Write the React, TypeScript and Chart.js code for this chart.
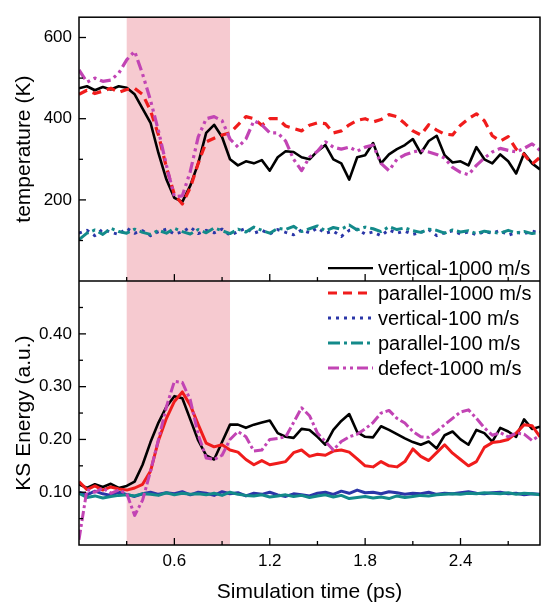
import React, { useEffect, useRef } from 'react';
import { Chart, registerables } from 'chart.js';

Chart.register(...registerables);

// ---------------- data ----------------
const time = [
  0, 0.05, 0.1, 0.15, 0.2, 0.25, 0.3, 0.35, 0.4, 0.45,
  0.5, 0.55, 0.6, 0.65, 0.7, 0.75, 0.8, 0.85, 0.9, 0.95,
  1.0, 1.05, 1.1, 1.15, 1.2, 1.25, 1.3, 1.35, 1.4, 1.45,
  1.5, 1.55, 1.6, 1.65, 1.7, 1.75, 1.8, 1.85, 1.9, 1.95,
  2.0, 2.05, 2.1, 2.15, 2.2, 2.25, 2.3, 2.35, 2.4, 2.45,
  2.5, 2.55, 2.6, 2.65, 2.7, 2.75, 2.8, 2.85, 2.9,
];

const seriesLabels = [
  'vertical-1000 m/s',
  'parallel-1000 m/s',
  'vertical-100 m/s',
  'parallel-100 m/s',
  'defect-1000 m/s',
];

// temperature (K)
const tempV1000 = [
  475, 480, 470, 478, 472, 480, 476, 460, 425, 390,
  315, 250, 205, 195, 235, 290, 365, 385, 355, 300,
  285, 295, 290, 298, 272, 305, 320, 318, 305, 300,
  320, 335, 300, 290, 250, 305, 310, 340, 290, 312,
  325, 335, 350, 315, 345, 358, 310, 292, 295, 285,
  330, 300, 290, 312, 295, 265, 315, 290, 275,
];
const tempP1000 = [
  460, 470, 462, 468, 475, 465, 472, 475, 460, 420,
  360, 280, 213, 190, 230, 290, 343, 352, 360, 365,
  385, 405, 400, 384, 400, 400, 382, 376, 370, 384,
  390, 388, 365, 370, 385, 396, 400, 392, 398, 410,
  405, 388, 370, 360, 385, 372, 362, 360, 384, 400,
  412, 395, 358, 345, 356, 325, 312, 288, 305,
];
const tempV100 = [
  118, 125, 112, 128, 120, 115, 130, 118, 124, 112,
  122, 128, 116, 121, 133, 117, 125, 119, 128, 113,
  122, 130, 118, 125, 116, 127, 120, 114, 126, 119,
  131, 118, 123, 110, 125, 128, 116, 121, 112, 126,
  118, 123, 115, 120, 127, 112, 119, 124, 116, 121,
  114, 122, 118, 125, 113, 120, 117, 123, 119,
];
const tempP100 = [
  102, 118, 126, 115, 130, 122, 118, 128, 120, 115,
  125, 118, 130, 122, 116, 127, 119, 131, 124, 117,
  128, 121, 133, 125, 118, 130, 127, 135, 122, 129,
  136, 124, 132, 128, 138, 126, 133, 129, 122, 134,
  127, 131, 124, 120, 128, 125, 118, 126, 121, 124,
  117, 123, 120, 118, 125, 119, 122, 117, 121,
];
const tempD1000 = [
  520, 490, 500, 492, 495, 512, 545, 566, 510, 445,
  370, 285, 208, 210, 270, 355, 400, 405, 395, 350,
  330, 350, 395, 385, 365, 365, 345, 300, 272, 305,
  320, 343, 330, 325, 330, 320, 330, 335, 290, 272,
  300, 311, 318, 322, 318, 312, 303, 280, 268, 262,
  285, 303, 318, 327, 322, 318, 327, 338, 322,
];

// KS energy (a.u.)
const ksV1000 = [
  0.115, 0.108, 0.115, 0.110, 0.116, 0.108, 0.112, 0.120, 0.152, 0.195,
  0.232, 0.262, 0.282, 0.278, 0.238, 0.198, 0.170, 0.162, 0.195, 0.228,
  0.228, 0.222, 0.228, 0.232, 0.236, 0.212, 0.205, 0.203, 0.220, 0.218,
  0.205, 0.190, 0.218, 0.235, 0.248, 0.214, 0.205, 0.204, 0.225, 0.218,
  0.210, 0.202, 0.195, 0.190, 0.196, 0.183, 0.208, 0.215, 0.200, 0.190,
  0.218, 0.212, 0.196, 0.222, 0.215, 0.205, 0.238, 0.220, 0.224,
];
const ksP1000 = [
  0.120, 0.105, 0.112, 0.104, 0.110, 0.106, 0.104, 0.108, 0.115, 0.140,
  0.198, 0.240, 0.272, 0.290, 0.265, 0.228, 0.193, 0.186, 0.190, 0.180,
  0.176, 0.162, 0.152, 0.160, 0.152, 0.155, 0.158, 0.175, 0.180, 0.168,
  0.172, 0.170, 0.178, 0.180, 0.176, 0.163, 0.150, 0.148, 0.158, 0.150,
  0.148, 0.158, 0.182, 0.168, 0.160, 0.175, 0.190, 0.174, 0.162, 0.150,
  0.158, 0.185, 0.194, 0.196, 0.200, 0.212, 0.228, 0.226, 0.205,
];
const ksV100 = [
  0.100, 0.095, 0.102, 0.097, 0.094, 0.100, 0.096, 0.092, 0.097, 0.100,
  0.096, 0.099, 0.097, 0.101, 0.095, 0.100, 0.098, 0.094, 0.101, 0.097,
  0.099, 0.093, 0.098, 0.096, 0.100, 0.095, 0.092, 0.097, 0.095, 0.093,
  0.098, 0.100, 0.096, 0.102, 0.098, 0.104, 0.099, 0.100, 0.097, 0.101,
  0.099, 0.096, 0.098, 0.097, 0.100, 0.096, 0.098, 0.097, 0.099, 0.101,
  0.098, 0.097, 0.099, 0.100, 0.097, 0.098, 0.095, 0.097, 0.096,
];
const ksP100 = [
  0.098, 0.090, 0.093, 0.089, 0.092, 0.094, 0.095, 0.093, 0.097, 0.096,
  0.094, 0.099, 0.095, 0.098, 0.096, 0.097, 0.095, 0.098, 0.094, 0.100,
  0.096, 0.094, 0.093, 0.095, 0.091, 0.093, 0.095, 0.092, 0.094, 0.090,
  0.093, 0.095, 0.091, 0.094, 0.088, 0.090, 0.092, 0.089, 0.091, 0.088,
  0.093, 0.090, 0.092, 0.094, 0.093, 0.095, 0.096, 0.097, 0.096, 0.098,
  0.097, 0.099, 0.098, 0.097, 0.099, 0.096, 0.098, 0.097, 0.095,
];
const ksD1000 = [
  0.010, 0.105, 0.100, 0.108, 0.098, 0.104, 0.098, 0.056, 0.085, 0.140,
  0.200, 0.262, 0.310, 0.308, 0.275, 0.209, 0.165, 0.162, 0.170, 0.200,
  0.215, 0.205, 0.178, 0.180, 0.200, 0.202, 0.205, 0.232, 0.260, 0.245,
  0.212, 0.196, 0.180, 0.196, 0.205, 0.210, 0.220, 0.232, 0.250, 0.255,
  0.240, 0.231, 0.215, 0.205, 0.204, 0.215, 0.228, 0.240, 0.252, 0.256,
  0.240, 0.222, 0.208, 0.213, 0.205, 0.212, 0.210, 0.198, 0.208,
];

const xMajorTicks = [0.6, 1.2, 1.8, 2.4];
const xMinorTicks = [0.3, 0.9, 1.5, 2.1, 2.7];
const tempMajorTicks = [200, 400, 600];
const tempMinorTicks = [100, 300, 500];
const ksMajorTicks = [0.1, 0.2, 0.3, 0.4];
const ksMinorTicks = [0.05, 0.15, 0.25, 0.35, 0.45];
const shadeRange = [0.3, 0.95];

// ---------------- styles ----------------
const FONT = '"Liberation Sans", Arial, sans-serif';
const colors = ['#000000', '#f01c1c', '#2b36a8', '#138a8a', '#c244b4'];
const topDash = [[], [9, 6], [3, 5], [12, 4, 3, 4], [11, 4, 3, 4, 3, 4]];
const bottomDash = [[], [], [], [], [10, 3, 3, 3]];
const widths = [2.6, 3.2, 3, 3, 3.2];
const bottomWidths = [2.6, 3, 3, 3, 3];

const topSeries = [tempV1000, tempP1000, tempV100, tempP100, tempD1000];
const bottomSeries = [ksV1000, ksP1000, ksV100, ksP100, ksD1000];

function toPoints(vals: number[]) {
  return time.map((t, i) => ({ x: t, y: vals[i] }));
}

const decorPlugin = {
  id: 'decor',
  beforeDatasetsDraw(chart: any) {
    const { ctx, chartArea } = chart;
    const xs = chart.scales.x;
    const x0 = xs.getPixelForValue(shadeRange[0]);
    const x1 = xs.getPixelForValue(shadeRange[1]);
    ctx.save();
    ctx.fillStyle = '#f6cad0';
    ctx.fillRect(x0, chartArea.top, x1 - x0, chartArea.bottom - chartArea.top);
    ctx.restore();
  },
  afterDatasetsDraw(chart: any) {
    const { ctx, chartArea } = chart;
    const xs = chart.scales.x;
    const yT = chart.scales.yT;
    const yB = chart.scales.yB;
    ctx.save();
    ctx.strokeStyle = '#000';
    ctx.lineWidth = 1.5;
    ctx.setLineDash([]);
    ctx.strokeRect(chartArea.left, chartArea.top, chartArea.right - chartArea.left, chartArea.bottom - chartArea.top);
    const seg = (x0: number, y0: number, x1: number, y1: number) => {
      ctx.beginPath();
      ctx.moveTo(x0, y0);
      ctx.lineTo(x1, y1);
      ctx.stroke();
    };
    seg(chartArea.left, yT.bottom, chartArea.right, yT.bottom);
    ctx.lineWidth = 1.3;
    for (const base of [yT.bottom, yB.bottom]) {
      for (const v of xMajorTicks) {
        const px = xs.getPixelForValue(v);
        seg(px, base, px, base - 7);
      }
      for (const v of xMinorTicks) {
        const px = xs.getPixelForValue(v);
        seg(px, base, px, base - 4);
      }
    }
    const L = chartArea.left;
    for (const v of tempMajorTicks) { const py = yT.getPixelForValue(v); seg(L, py, L + 7, py); }
    for (const v of tempMinorTicks) { const py = yT.getPixelForValue(v); seg(L, py, L + 4, py); }
    for (const v of ksMajorTicks) { const py = yB.getPixelForValue(v); seg(L, py, L + 7, py); }
    for (const v of ksMinorTicks) { const py = yB.getPixelForValue(v); seg(L, py, L + 4, py); }

    // legend
    const lx0 = chartArea.right - 212;
    const lx1 = lx0 + 45;
    const ly0 = yT.bottom - 13;
    ctx.font = `20px ${FONT}`;
    ctx.textBaseline = 'middle';
    ctx.textAlign = 'left';
    seriesLabels.forEach((label, i) => {
      const y = ly0 + i * 25;
      ctx.strokeStyle = colors[i];
      ctx.lineWidth = i === 0 ? 2.4 : 3;
      ctx.setLineDash(topDash[i]);
      seg(lx0, y, lx1, y);
      ctx.setLineDash([]);
      ctx.fillStyle = '#000';
      ctx.fillText(label, lx1 + 5, y + 1);
    });
    ctx.restore();
  },
};

export default function App() {
  const ref = useRef<HTMLCanvasElement | null>(null);
  useEffect(() => {
    if (!ref.current) return;
    Chart.defaults.font.family = FONT;
    Chart.defaults.color = '#000';
    const datasets: any[] = [];
    topSeries.forEach((vals, i) => {
      datasets.push({
        label: seriesLabels[i],
        data: toPoints(vals),
        yAxisID: 'yT',
        borderColor: colors[i],
        borderWidth: widths[i],
        borderDash: topDash[i],
        pointRadius: 0,
        fill: false,
        tension: 0,
        borderJoinStyle: 'round',
      });
    });
    bottomSeries.forEach((vals, i) => {
      datasets.push({
        label: seriesLabels[i] + ' KS',
        data: toPoints(vals),
        yAxisID: 'yB',
        borderColor: colors[i],
        borderWidth: bottomWidths[i],
        borderDash: bottomDash[i],
        pointRadius: 0,
        fill: false,
        tension: 0,
        borderJoinStyle: 'round',
      });
    });
    const order = [4, 3, 2, 1, 0];
    datasets.forEach((d, idx) => { d.order = order[idx % 5]; });

    const yCommon = (title: string) => ({
      type: 'linear',
      position: 'left',
      stack: 'panels',
      stackWeight: 1,
      grid: { display: false, drawTicks: false },
      border: { display: false },
      title: {
        display: true,
        text: title,
        font: { size: 21, lineHeight: 1 },
        padding: { top: 14, bottom: 0 },
        color: '#000',
      },
      afterFit: (s: any) => { s.width = 79; },
    });

    const chart = new Chart(ref.current, {
      type: 'line',
      data: { datasets },
      plugins: [decorPlugin],
      options: {
        responsive: false,
        animation: false,
        events: [],
        layout: { padding: { top: 11, right: 4, left: 0, bottom: 0 } },
        plugins: { legend: { display: false }, tooltip: { enabled: false } },
        scales: {
          x: {
            type: 'linear',
            min: 0,
            max: 2.9,
            afterBuildTicks: (s: any) => { s.ticks = xMajorTicks.map((v) => ({ value: v })); },
            ticks: {
              font: { size: 17 },
              color: '#000',
              padding: 6,
              maxRotation: 0,
              autoSkip: false,
              callback: (v: any) => Number(v).toFixed(1),
            },
            grid: { display: false, drawTicks: false },
            border: { display: false },
            title: {
              display: true,
              text: 'Simulation time (ps)',
              font: { size: 21, lineHeight: 1 },
              padding: { top: 0, bottom: 0 },
              color: '#000',
            },
            afterFit: (s: any) => { s.height = 58; },
          },
          yB: {
            ...yCommon('KS Energy (a.u.)'),
            min: 0,
            max: 0.5,
            weight: 0,
            afterBuildTicks: (s: any) => { s.ticks = ksMajorTicks.map((v) => ({ value: v })); },
            ticks: { font: { size: 17 }, color: '#000', padding: 7, callback: (v: any) => Number(v).toFixed(2) },
          },
          yT: {
            ...yCommon('temperature (K)'),
            min: 0,
            max: 650,
            weight: 1,
            afterBuildTicks: (s: any) => { s.ticks = tempMajorTicks.map((v) => ({ value: v })); },
            ticks: { font: { size: 17 }, color: '#000', padding: 7, callback: (v: any) => String(v) },
          },
        } as any,
      },
    } as any);
    return () => chart.destroy();
  }, []);

  return (
    <div style={{ position: 'absolute', left: 0, top: 0, width: 544, height: 603, background: '#fff' }}>
      <canvas ref={ref} width={544} height={603} style={{ display: 'block' }} />
    </div>
  );
}
